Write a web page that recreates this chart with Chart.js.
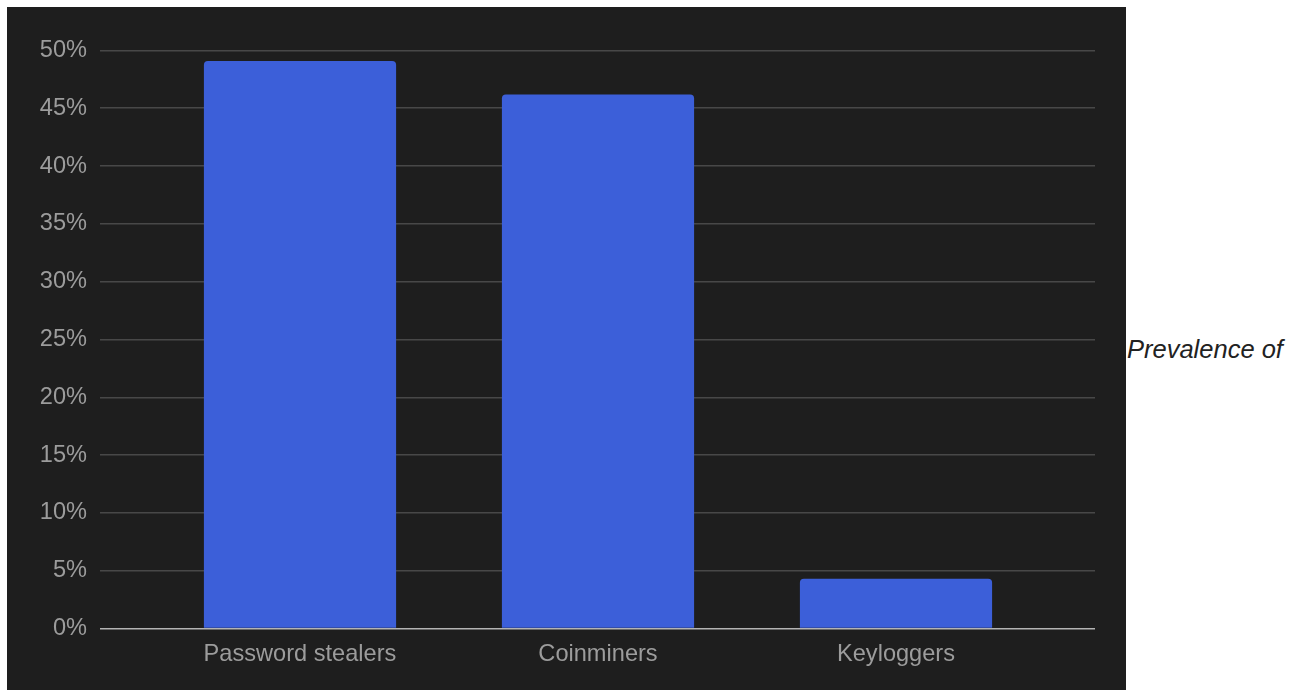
<!DOCTYPE html>
<html>
<head>
<meta charset="utf-8">
<script src="https://cdn.jsdelivr.net/npm/chart.js@4"></script>
<style>
  html, body { margin: 0; padding: 0; background: #fff; }
  #box { position: absolute; left: 7px; top: 7px; width: 1119px; height: 683px; background: #1e1e1e; }
  #caption { position: absolute; left: 1127px; top: 335px; font: italic 25.5px "Liberation Sans", Arial, sans-serif; color: #222; white-space: nowrap; }
</style>
</head>
<body>
<div id="box"><canvas id="malwareChart" width="1119" height="683"></canvas></div>
<div id="caption">Prevalence of</div>
<script>
// categories et valeurs (en %)
const categories = ["Password stealers", "Coinminers", "Keyloggers"];
const prevalence = [49.1, 46.2, 4.3];
const yTicks = { min: 0, max: 50, step: 5 };

const gridColor = (ctx) => (ctx.tick && ctx.tick.value === 0 ? "#b4b4b4" : "#484848");
const labelFont = { family: "'Liberation Sans', Arial, sans-serif", size: 23.6 };

try {
  const ctx = document.getElementById("malwareChart");
  new Chart(ctx, {
    type: "bar",
    data: {
      labels: categories,
      datasets: [
        {
          data: prevalence,
          backgroundColor: "#3c5fd9",
          borderRadius: 4,
          categoryPercentage: 1,
          barPercentage: 0.645,
        },
      ],
    },
    options: {
      responsive: false,
      animation: false,
      layout: { padding: { top: 43.5, left: 0, right: 0, bottom: 0 } },
      plugins: { legend: { display: false }, tooltip: { enabled: false } },
      scales: {
        x: {
          grid: { display: false, drawTicks: false },
          border: { display: false },
          ticks: { color: "#9c9c9c", font: labelFont, padding: 11.5 },
          afterFit: (scale) => { scale.height = 61.5; },
        },
        y: {
          min: yTicks.min,
          max: yTicks.max,
          ticks: {
            stepSize: yTicks.step,
            color: "#9c9c9c",
            font: labelFont,
            padding: 13,
            callback: (v) => v + "%",
          },
          grid: { color: gridColor, lineWidth: 1.6, tickLength: 51 },
          border: { display: false },
          afterFit: (scale) => { scale.width = 144; },
        },
        yRight: {
          position: "right",
          min: yTicks.min,
          max: yTicks.max,
          ticks: { stepSize: yTicks.step, display: false },
          grid: { color: gridColor, lineWidth: 1.6, tickLength: 50, drawOnChartArea: false },
          border: { display: false },
          afterFit: (scale) => { scale.width = 81; },
        },
      },
    },
  });
} catch (error) {
  console.error("Erreur graphique:", error);
}
</script>
</body>
</html>
